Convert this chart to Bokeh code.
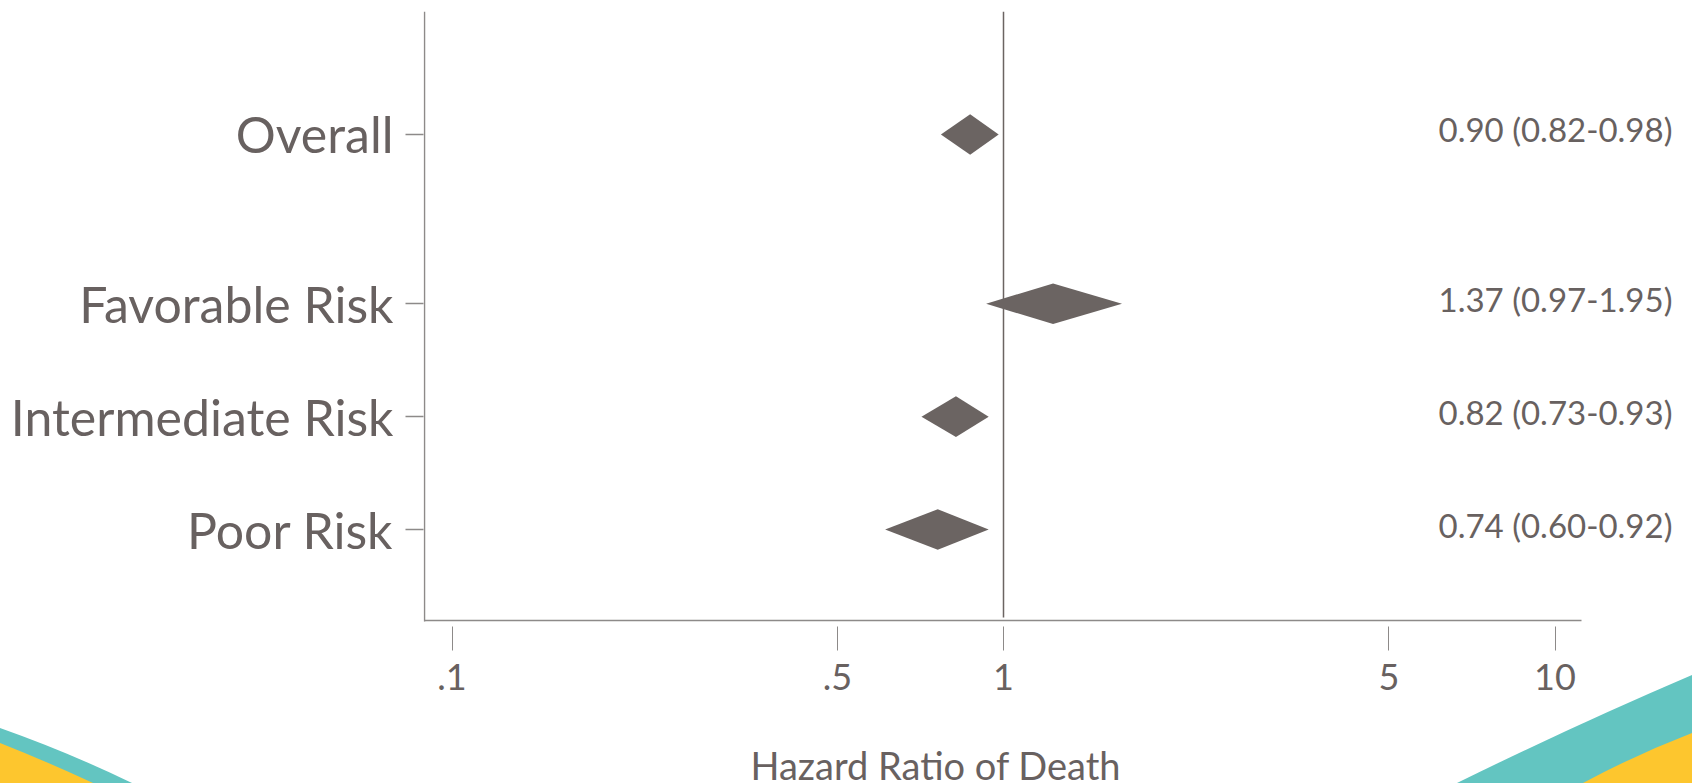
import numpy as np
from bokeh.plotting import figure
from bokeh.models import Range1d, FixedTicker
from bokeh.core.properties import value
from bokeh.embed import file_html
from bokeh.resources import INLINE

# ---------------- data ----------------
groups = ["Overall", "Favorable Risk", "Intermediate Risk", "Poor Risk"]
hr = [0.90, 1.37, 0.82, 0.74]
ci_lo = [0.82, 0.97, 0.73, 0.60]
ci_hi = [0.98, 1.95, 0.93, 0.92]
# diamond extents as drawn in the figure
dia_lo = [0.77, 0.93, 0.71, 0.61]
dia_mid = [0.87, 1.23, 0.82, 0.76]
dia_hi = [0.98, 1.64, 0.94, 0.94]
x_ticks = [0.1, 0.5, 1, 5, 10]
x_tick_labels = [".1", ".5", "1", "5", "10"]
x_title = "Hazard Ratio of Death"

# ---------------- layout constants ----------------
W, H = 1692, 783
FL, FR, FT, FB = 423, 1692, 11, 783       # frame edges in canvas px
AXIS_X = 424                              # y axis line position (px)
AXIS_Y = 620                              # x axis line position (px)
AXIS_END = 1581                           # visible end of x axis line
PX_PER_DEC = 551.5
X_ONE = 1003
X0 = 10 ** ((FL - X_ONE) / PX_PER_DEC)
X1 = 10 ** ((FR - X_ONE) / PX_PER_DEC)
PX_PER_ROW = 112.86
Y_POOR = 529
Y0 = 1 - (FB - Y_POOR) / PX_PER_ROW
Y1 = 1 + (Y_POOR - FT) / PX_PER_ROW
TXT = "#686160"
AX = "#8d8a89"
FONT = "Lato"

# row positions: subgroups 1..n from bottom, overall 1.5 rows above
n_sub = len(groups) - 1
row_pos = [n_sub + 1.5] + [float(n_sub - i) for i in range(n_sub)]


def px_to_x(px):
    return float(10 ** ((px - X_ONE) / PX_PER_DEC))


def px_to_y(py):
    return float(1 - (py - Y_POOR) / PX_PER_ROW)


bg_svg = (
    "<svg xmlns='http://www.w3.org/2000/svg' width='1692' height='783'>"
    "<path d='M0,728 Q68,752 132,783 L0,783 Z' fill='%2363c5c1'/>"
    "<path d='M0,743 Q48,762 93,783 L0,783 Z' fill='%23fdc62e'/>"
    "<path d='M1692,675 Q1575,725 1457,783 L1692,783 Z' fill='%2363c5c1'/>"
    "<path d='M1692,733 Q1635,755 1583,783 L1692,783 Z' fill='%23fdc62e'/>"
    "</svg>"
)

p = figure(width=W, height=H, x_axis_type="log",
           x_range=Range1d(X0, X1), y_range=Range1d(Y0, Y1),
           output_backend="svg", toolbar_location=None,
           min_border_left=FL, min_border_right=W - FR,
           min_border_top=FT, min_border_bottom=H - FB)
p.outline_line_color = None
p.xgrid.grid_line_color = None
p.ygrid.grid_line_color = None
p.background_fill_alpha = 0
p.border_fill_alpha = 0
p.styles = {
    "background-color": "white",
    "background-image": f'url("data:image/svg+xml;utf8,{bg_svg}")',
    "background-repeat": "no-repeat",
}

# axis lines
p.segment(x0=[px_to_x(AXIS_X)], x1=[px_to_x(AXIS_X)],
          y0=[px_to_y(FT)], y1=[px_to_y(AXIS_Y + 1)],
          line_color=AX, line_width=1.5)
p.segment(x0=[px_to_x(AXIS_X)], x1=[px_to_x(AXIS_END)],
          y0=[px_to_y(AXIS_Y)], y1=[px_to_y(AXIS_Y)],
          line_color=AX, line_width=1.5)

# reference line at HR = 1
p.segment(x0=[1], x1=[1], y0=[px_to_y(FT)], y1=[px_to_y(AXIS_Y - 3)],
          line_color="#6b6462", line_width=1.5)

# diamonds
hh = 0.18
xs = [[lo, m, hi_, m] for lo, m, hi_ in zip(dia_lo, dia_mid, dia_hi)]
ys = [[y, y + hh, y, y - hh] for y in row_pos]
p.patches(xs, ys, fill_color="#6b6462", line_color=None)

# y axis (categories)
p.yaxis.ticker = FixedTicker(ticks=row_pos)
p.yaxis.major_label_overrides = {float(y): g for y, g in zip(row_pos, groups)}
p.yaxis.major_label_text_font = FONT
p.yaxis.major_label_text_font_size = "50px"
p.yaxis.major_label_text_color = TXT
p.yaxis.major_label_standoff = 12
p.yaxis.major_tick_in = 0
p.yaxis.major_tick_out = 18
p.yaxis.major_tick_line_color = AX
p.yaxis.major_tick_line_width = 1.5
p.yaxis.minor_tick_line_color = None
p.yaxis.axis_line_color = None

# x axis (log hazard ratio), drawn at the baseline
p.xaxis.fixed_location = px_to_y(AXIS_Y + 1)
p.xaxis.ticker = FixedTicker(ticks=x_ticks)
p.xaxis.major_label_overrides = {float(t): s for t, s in zip(x_ticks, x_tick_labels)}
p.xaxis.major_label_text_font = FONT
p.xaxis.major_label_text_font_size = "36px"
p.xaxis.major_label_text_color = TXT
p.xaxis.major_label_standoff = 13
p.xaxis.major_tick_in = -5
p.xaxis.major_tick_out = 29
p.xaxis.major_tick_line_color = AX
p.xaxis.major_tick_line_width = 1
p.xaxis.minor_tick_line_color = None
p.xaxis.axis_line_color = None

# right-hand estimate labels
est_text = [f"{h:.2f} ({l:.2f}-{u:.2f})" for h, l, u in zip(hr, ci_lo, ci_hi)]
p.text(x=px_to_x(1438), y=row_pos, text=est_text,
       text_align="left", text_baseline="middle", y_offset=-5,
       text_font=value(FONT), text_font_size="33px", text_color=TXT)

# x-axis title
p.text(x=[px_to_x(750)], y=[px_to_y(764)], text=[x_title],
       text_align="left", text_baseline="middle",
       text_font=value(FONT), text_font_size="38px", text_color=TXT)

open("out.html", "w").write(file_html(p, INLINE))
